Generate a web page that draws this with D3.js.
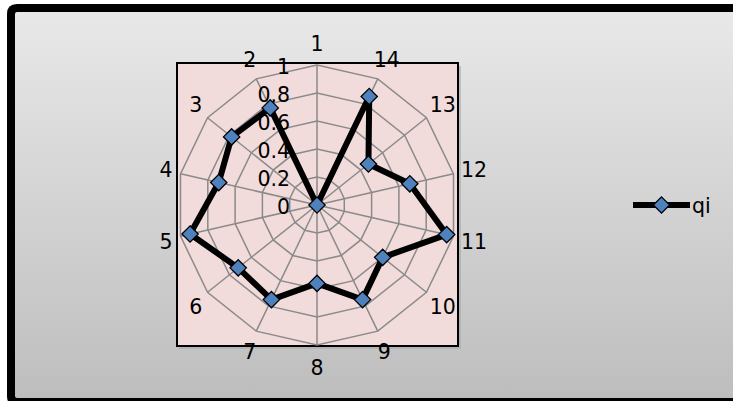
<!DOCTYPE html>
<html>
<head>
<meta charset="utf-8">
<script src="https://cdn.jsdelivr.net/npm/d3@7"></script>
<style>
  html, body { margin: 0; padding: 0; background: #fff; overflow: hidden; }
  svg { display: block; }
  svg text { font-family: "DejaVu Sans", sans-serif; }
</style>
</head>
<body>
<script>
const categories = ["1","2","3","4","5","6","7","8","9","10","11","12","13","14"];
const qi = [0, 0.77, 0.78, 0.72, 0.93, 0.72, 0.75, 0.56, 0.75, 0.60, 0.95, 0.68, 0.47, 0.86];
const ticks = [0, 0.2, 0.4, 0.6, 0.8, 1];
const seriesName = "qi";

var width = 733, height = 401,
    cx = 317, cy = 205, R = 140,
    fontSize = 20.5;

var svg = d3.select('body').append('svg')
    .attr('width', width)
    .attr('height', height);

var defs = svg.append('defs');
var grad = defs.append('linearGradient')
    .attr('id', 'bg').attr('x1', 0).attr('y1', 0).attr('x2', 0).attr('y2', 1);
grad.append('stop').attr('offset', '0%').attr('stop-color', '#e9e9e9');
grad.append('stop').attr('offset', '100%').attr('stop-color', '#bdbdbd');

// chart area frame: left, top and bottom edges show, the right one is cut off
svg.append('rect')
    .attr('x', 11).attr('y', 8)
    .attr('width', 740).attr('height', 394)
    .attr('fill', 'url(#bg)');
svg.append('path')
    .attr('d', 'M 760 8 H 17 Q 11 8 11 14 V 396 Q 11 402 17 402 H 760')
    .attr('fill', 'none')
    .attr('stroke', '#000')
    .attr('stroke-width', 8);

// plot area with a soft shadow
svg.append('rect')
    .attr('x', 179).attr('y', 66)
    .attr('width', 282).attr('height', 283)
    .attr('fill', '#a8a8a8').attr('opacity', 0.6);
svg.append('rect')
    .attr('x', 177).attr('y', 63)
    .attr('width', 281).attr('height', 283)
    .attr('fill', '#f2dcdb')
    .attr('stroke', '#000')
    .attr('stroke-width', 2);

var rScale = d3.scaleLinear().domain([0, 1]).range([0, R]);
var angle = d3.scaleLinear().domain([0, categories.length]).range([0, -2 * Math.PI]);

var g = svg.append('g').attr('transform', `translate(${cx},${cy})`);

// rings
var ringLine = d3.lineRadial()
    .angle((d, i) => angle(i))
    .radius(d => rScale(d))
    .curve(d3.curveLinearClosed);

g.selectAll('.ring')
    .data(ticks.slice(1))
    .enter().append('path')
    .attr('class', 'ring')
    .attr('d', t => ringLine(categories.map(() => t)))
    .attr('fill', 'none')
    .attr('stroke', '#8a8a8a')
    .attr('stroke-width', 1.5);

// spokes
g.selectAll('.spoke')
    .data(categories)
    .enter().append('line')
    .attr('class', 'spoke')
    .attr('x1', 0).attr('y1', 0)
    .attr('x2', (d, i) => rScale(1) * Math.sin(angle(i)))
    .attr('y2', (d, i) => -rScale(1) * Math.cos(angle(i)))
    .attr('stroke', '#8a8a8a')
    .attr('stroke-width', 1.5);

// value axis labels
g.selectAll('.tick')
    .data(ticks)
    .enter().append('text')
    .attr('x', -27)
    .attr('y', t => -rScale(t) + 2)
    .attr('text-anchor', 'end')
    .attr('dominant-baseline', 'central')
    .attr('font-size', fontSize)
    .attr('fill', '#000')
    .text(t => d3.format('')(t));

// category labels
g.selectAll('.cat')
    .data(categories)
    .enter().append('text')
    .attr('x', (d, i) => {
      var s = Math.sin(angle(i));
      return s * (R + 9) + s * (d.length > 1 ? 12 : 6);
    })
    .attr('y', (d, i) => {
      var c = Math.cos(angle(i));
      return -c * (R + 10) - c * 12 + 1;
    })
    .attr('text-anchor', 'middle')
    .attr('dominant-baseline', 'central')
    .attr('font-size', fontSize)
    .attr('fill', '#000')
    .text(d => d);

// series
var seriesLine = d3.lineRadial()
    .angle((d, i) => angle(i))
    .radius(d => rScale(d))
    .curve(d3.curveLinearClosed);

g.append('path')
    .attr('d', seriesLine(qi))
    .attr('fill', 'none')
    .attr('stroke', '#000')
    .attr('stroke-width', 6)
    .attr('stroke-linejoin', 'round');

var diamond = d3.symbol().type(d3.symbolDiamond2).size(170);

g.selectAll('.marker')
    .data(qi)
    .enter().append('path')
    .attr('class', 'marker')
    .attr('transform', (d, i) => `translate(${rScale(d) * Math.sin(angle(i))},${-rScale(d) * Math.cos(angle(i))})`)
    .attr('d', diamond)
    .attr('fill', '#4f81bd')
    .attr('stroke', '#000')
    .attr('stroke-width', 1.3);

// legend
var legend = svg.append('g').attr('transform', 'translate(633,205)');
legend.append('line')
    .attr('x1', 0).attr('x2', 57)
    .attr('stroke', '#000').attr('stroke-width', 6);
legend.append('path')
    .attr('transform', 'translate(28.5,0)')
    .attr('d', diamond)
    .attr('fill', '#4f81bd')
    .attr('stroke', '#000')
    .attr('stroke-width', 1.3);
legend.append('text')
    .attr('x', 59).attr('y', 1)
    .attr('dominant-baseline', 'central')
    .attr('font-size', fontSize)
    .text(seriesName);
</script>
</body>
</html>
